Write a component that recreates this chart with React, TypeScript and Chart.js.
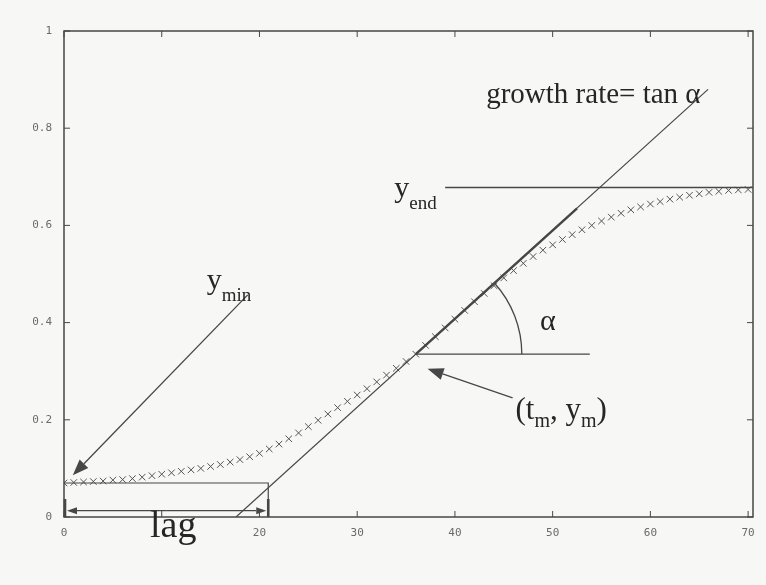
import React, { useEffect, useRef } from "react";
import { Chart, registerables } from "chart.js";

Chart.register(...registerables);

// Sampling times and measured growth (optical density)
const timePoints = [
  0, 1, 2, 3, 4, 5, 6, 7, 8, 9, 10, 11, 12, 13, 14, 15, 16, 17, 18, 19, 20,
  21, 22, 23, 24, 25, 26, 27, 28, 29, 30, 31, 32, 33, 34, 35, 36, 37, 38, 39,
  40, 41, 42, 43, 44, 45, 46, 47, 48, 49, 50, 51, 52, 53, 54, 55, 56, 57, 58,
  59, 60, 61, 62, 63, 64, 65, 66, 67, 68, 69, 70,
];
const growth = [
  0.070, 0.071, 0.072, 0.073, 0.074, 0.076, 0.077, 0.079, 0.082, 0.085,
  0.088, 0.091, 0.094, 0.097, 0.100, 0.104, 0.108, 0.113, 0.118, 0.124,
  0.131, 0.140, 0.150, 0.161, 0.173, 0.186, 0.199, 0.212, 0.225, 0.238,
  0.251, 0.264, 0.278, 0.292, 0.306, 0.320, 0.335, 0.353, 0.371, 0.389,
  0.407, 0.425, 0.443, 0.460, 0.476, 0.492, 0.507, 0.522, 0.536, 0.549,
  0.560, 0.571, 0.581, 0.591, 0.600, 0.609, 0.617, 0.625, 0.632, 0.638,
  0.644, 0.649, 0.654, 0.658, 0.662, 0.665, 0.668, 0.670, 0.672, 0.673,
  0.674,
];

const xTickValues = [0, 10, 20, 30, 40, 50, 60, 70];
const xTickLabels = ["0", "", "20", "30", "40", "50", "60", "70"];
const yTickValues = [0, 0.2, 0.4, 0.6, 0.8, 1];
const yTickLabels = ["0", "0.2", "0.4", "0.6", "0.8", "1"];

// Tangent through the inflection point (slope = growth rate)
const tangentX = [17.6, 65.9];
const tangentY = [0, 0.88];
// Stretch of the curve that follows the tangent
const steepX = [36, 52.5];
const steepY = [0.335, 0.635];
// Inflection point (t_m, y_m) and its horizontal reference
const tM = 36;
const yM = 0.335;
const inflectionRuleX = [36, 53.8];
// Plateau level
const yEnd = 0.678;
const yEndRuleX = [39, 70.5];
// Starting level and lag time
const yMin = 0.07;
const lag = 20.9;

const INK = "#474747";
const TEXT = "#262626";
const SERIF = '"Liberation Serif", "Times New Roman", serif';

type Run = { t: string; size: number; dy?: number };

function drawRuns(ctx: CanvasRenderingContext2D, runs: Run[], x: number, y: number) {
  let cx = x;
  for (const r of runs) {
    ctx.font = `${r.size}px ${SERIF}`;
    ctx.fillText(r.t, cx, y + (r.dy || 0));
    cx += ctx.measureText(r.t).width;
  }
}

function arrow(
  ctx: CanvasRenderingContext2D,
  x1: number, y1: number, x2: number, y2: number,
  len: number, half: number, width: number
) {
  const a = Math.atan2(y2 - y1, x2 - x1);
  const bx = x2 - len * Math.cos(a);
  const by = y2 - len * Math.sin(a);
  ctx.lineWidth = width;
  ctx.beginPath();
  ctx.moveTo(x1, y1);
  ctx.lineTo(bx, by);
  ctx.stroke();
  ctx.beginPath();
  ctx.moveTo(x2, y2);
  ctx.lineTo(bx + half * Math.sin(a), by - half * Math.cos(a));
  ctx.lineTo(bx - half * Math.sin(a), by + half * Math.cos(a));
  ctx.closePath();
  ctx.fill();
}

const annotations = {
  id: "annotations",
  beforeDraw(chart: any) {
    const ctx = chart.ctx;
    ctx.save();
    ctx.fillStyle = "#f7f7f6";
    ctx.fillRect(0, 0, chart.width, chart.height);
    ctx.restore();
  },
  afterDatasetsDraw(chart: any) {
    const { ctx, chartArea: a, scales } = chart;
    const px = (v: number) => scales.x.getPixelForValue(v);
    const py = (v: number) => scales.y.getPixelForValue(v);
    ctx.save();

    // frame and inward ticks on all four sides
    ctx.strokeStyle = INK;
    ctx.lineWidth = 1.5;
    ctx.strokeRect(a.left, a.top, a.right - a.left, a.bottom - a.top);
    ctx.lineWidth = 1;
    const tl = 6;
    for (const v of xTickValues) {
      const x = px(v);
      ctx.beginPath();
      ctx.moveTo(x, a.bottom);
      ctx.lineTo(x, a.bottom - tl);
      ctx.moveTo(x, a.top);
      ctx.lineTo(x, a.top + tl);
      ctx.stroke();
    }
    for (const v of yTickValues) {
      const y = py(v);
      ctx.beginPath();
      ctx.moveTo(a.left, y);
      ctx.lineTo(a.left + tl, y);
      ctx.moveTo(a.right, y);
      ctx.lineTo(a.right - tl, y);
      ctx.stroke();
    }

    ctx.strokeStyle = INK;
    ctx.fillStyle = INK;

    // lag box: y_min level down to the lag time
    ctx.lineWidth = 1.2;
    ctx.beginPath();
    ctx.moveTo(px(0), py(yMin));
    ctx.lineTo(px(lag), py(yMin));
    ctx.lineTo(px(lag), py(0));
    ctx.stroke();
    ctx.lineWidth = 2.6;
    ctx.beginPath();
    ctx.moveTo(px(0) + 1, py(0));
    ctx.lineTo(px(0) + 1, py(0.037));
    ctx.moveTo(px(lag), py(0));
    ctx.lineTo(px(lag), py(0.037));
    ctx.stroke();
    // double arrow for the lag span
    const ly = py(0.013);
    arrow(ctx, (px(0) + px(lag)) / 2, ly, px(0) + 3, ly, 10, 3.5, 1.2);
    arrow(ctx, (px(0) + px(lag)) / 2, ly, px(lag) - 2, ly, 10, 3.5, 1.2);

    // angle arc between the horizontal and the tangent
    const ang = Math.atan2(
      py(tangentY[0]) - py(tangentY[1]),
      px(tangentX[1]) - px(tangentX[0])
    );
    ctx.lineWidth = 1.3;
    ctx.beginPath();
    ctx.arc(px(tM), py(yM), 106, -ang, 0);
    ctx.stroke();

    // arrows to y_min and to (t_m, y_m)
    arrow(ctx, px(18.8), py(0.457), px(0.9), py(0.086), 16, 6, 1.3);
    arrow(ctx, px(45.9), py(0.245), px(37.2), py(0.305), 16, 6, 1.3);

    // text
    ctx.fillStyle = TEXT;
    ctx.textBaseline = "alphabetic";
    ctx.textAlign = "left";
    drawRuns(ctx, [{ t: "growth rate= tan α", size: 29 }], px(43.2), py(0.852));
    drawRuns(ctx, [{ t: "y", size: 30 }, { t: "end", size: 19, dy: 12 }], px(33.8), py(0.659));
    drawRuns(ctx, [{ t: "y", size: 30 }, { t: "min", size: 19, dy: 12 }], px(14.6), py(0.469));
    drawRuns(ctx, [{ t: "α", size: 30 }], px(48.7), py(0.385));
    drawRuns(
      ctx,
      [
        { t: "(t", size: 31 },
        { t: "m", size: 20, dy: 8 },
        { t: ", y", size: 31 },
        { t: "m", size: 20, dy: 8 },
        { t: ")", size: 31 },
      ],
      px(46.2),
      py(0.202)
    );
    drawRuns(ctx, [{ t: "lag", size: 38 }], px(8.8), py(-0.041));

    ctx.restore();
  },
};

export default function App() {
  const ref = useRef<HTMLCanvasElement | null>(null);

  useEffect(() => {
    document.body.style.margin = "0";
    const canvas = ref.current;
    if (!canvas) return;

    const lineSet = (label: string, xs: number[], ys: number[], width: number) => ({
      label,
      type: "line" as const,
      data: xs.map((x, i) => ({ x, y: ys[i] })),
      borderColor: INK,
      borderWidth: width,
      pointRadius: 0,
      fill: false,
      tension: 0,
      order: 1,
    });

    const chart = new Chart(canvas, {
      type: "scatter",
      data: {
        datasets: [
          lineSet("tangent", tangentX, tangentY, 1.2),
          lineSet("steepest part", steepX, steepY, 2.4),
          lineSet("y_m", inflectionRuleX, [yM, yM], 1.3),
          lineSet("y_end", yEndRuleX, [yEnd, yEnd], 1.3),
          {
            label: "growth",
            data: timePoints.map((t, i) => ({ x: t, y: growth[i] })),
            pointStyle: "crossRot",
            pointRadius: 4.6,
            borderWidth: 1,
            borderColor: "#555",
            backgroundColor: "#555",
            showLine: false,
            order: 5,
          },
        ] as any,
      },
      options: {
        animation: false,
        responsive: false,
        devicePixelRatio: 1,
        layout: { padding: { top: 31, right: 13, left: 0, bottom: 0 } },
        plugins: { legend: { display: false }, tooltip: { enabled: false } },
        scales: {
          x: {
            type: "linear",
            min: 0,
            max: 70.5,
            afterBuildTicks: (s: any) => {
              s.ticks = xTickValues.map((v) => ({ value: v }));
            },
            afterFit: (s: any) => {
              s.height = 68;
            },
            grid: { display: false, drawTicks: false },
            border: { display: false },
            ticks: {
              autoSkip: false,
              maxRotation: 0,
              padding: 10,
              color: "#6a6a6a",
              font: { family: "DejaVu Sans Mono", size: 11 },
              callback: (v: any) => {
                const i = xTickValues.indexOf(Number(v));
                return i >= 0 ? xTickLabels[i] : "";
              },
            },
          },
          y: {
            type: "linear",
            min: 0,
            max: 1,
            afterBuildTicks: (s: any) => {
              s.ticks = yTickValues.map((v) => ({ value: v }));
            },
            afterFit: (s: any) => {
              s.width = 64;
            },
            grid: { display: false, drawTicks: false },
            border: { display: false },
            ticks: {
              autoSkip: false,
              padding: 12,
              color: "#6a6a6a",
              font: { family: "DejaVu Sans Mono", size: 11 },
              callback: (v: any) => {
                const i = yTickValues.findIndex((t) => Math.abs(t - Number(v)) < 1e-9);
                return i >= 0 ? yTickLabels[i] : "";
              },
            },
          },
        },
      } as any,
      plugins: [annotations],
    });

    return () => chart.destroy();
  }, []);

  return <canvas ref={ref} width={766} height={585} style={{ display: "block" }} />;
}
